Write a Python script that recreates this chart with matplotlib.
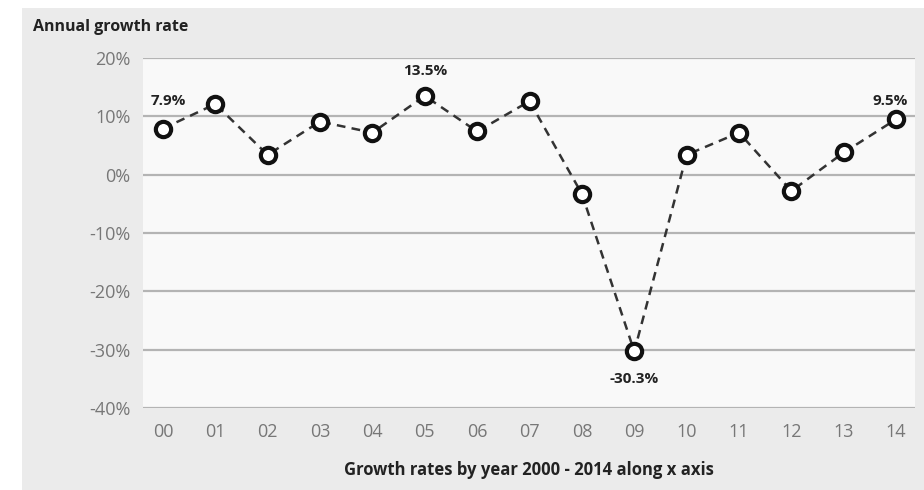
import matplotlib
matplotlib.use("Agg")
import matplotlib.pyplot as plt
from matplotlib.patches import Rectangle

# datos
years = ["00", "01", "02", "03", "04", "05", "06", "07",
         "08", "09", "10", "11", "12", "13", "14"]
growth = [7.9, 12.1, 3.4, 9.1, 7.2, 13.5, 7.4, 12.6,
          -3.3, -30.3, 3.4, 7.2, -2.8, 3.8, 9.5]
y_ticks = [20, 10, 0, -10, -20, -30, -40]
labeled = {0: "7.9%", 5: "13.5%", 9: "-30.3%", 14: "9.5%"}
label_offsets = {0: (4, 20), 5: (0, 18), 9: (0, -20), 14: (-4, 13)}

plt.rcParams["font.family"] = ["Open Sans", "DejaVu Sans"]

fig = plt.figure(figsize=(9.24, 4.90), dpi=100, facecolor="white")
# fondo gris del panel
fig.patches.append(Rectangle((22 / 924, 0), 1 - 22 / 924, 1 - 8 / 490,
                             transform=fig.transFigure, facecolor="#ebebeb",
                             edgecolor="none", zorder=-10))

ax = fig.add_axes([143 / 924, 1 - 408 / 490, 772 / 924, 350 / 490])
ax.set_facecolor("#f9f9f9")

x = list(range(len(years)))
ax.plot(x, growth, linestyle=(0, (3.5, 2.5)), color="#333333", lw=1.8,
        marker="o", markersize=11, markerfacecolor="white",
        markeredgecolor="#111111", markeredgewidth=3.0, zorder=3)

for i, txt in labeled.items():
    ax.annotate(txt, (x[i], growth[i]), xytext=label_offsets[i], textcoords="offset points",
                ha="center", va="center", fontsize=11, fontweight="bold", color="#222222")

ax.set_xlim(-0.38, 14.36)
ax.set_ylim(-40, 20)
ax.set_yticks(y_ticks)
ax.set_yticklabels([f"{v}%" for v in y_ticks])
ax.set_xticks(x)
ax.set_xticklabels(years)
ax.grid(axis="y", color="#b4b4b4", lw=1.6)
ax.set_axisbelow(True)
for s in ax.spines.values():
    s.set_visible(False)
ax.tick_params(length=0, labelsize=13, labelcolor="#777777")
ax.tick_params(axis="y", pad=9)
ax.tick_params(axis="x", pad=11)

ax.set_xlabel("Growth rates by year 2000 - 2014 along x axis", fontsize=12,
              fontweight="bold", color="#222222", labelpad=14)
fig.text(33 / 924, 1 - 27 / 490, "Annual growth rate", fontsize=11.5,
         fontweight="bold", color="#222222", va="center", ha="left")

fig.savefig("out.png", dpi=100, facecolor=fig.get_facecolor())
